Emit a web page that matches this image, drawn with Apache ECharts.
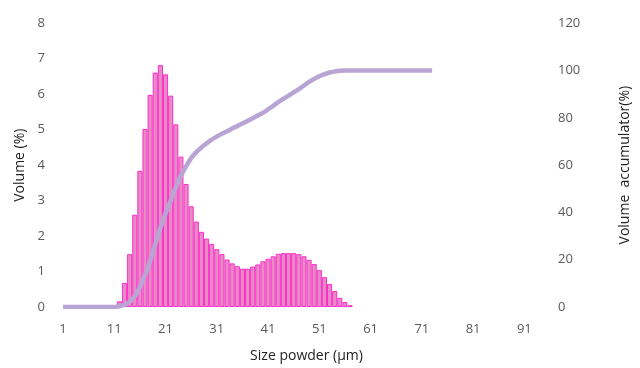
<!DOCTYPE html>
<html>
<head>
<meta charset="utf-8">
<script src="https://cdn.jsdelivr.net/npm/echarts@6/dist/echarts.min.js"></script>
<style>html,body{margin:0;padding:0;background:#fff}#c{width:640px;height:368px}</style>
</head>
<body>
<div id="c"></div>
<script>
// Categories: particle size (µm), 1..96
const sizes = [];
for (let i = 1; i <= 96; i++) sizes.push(String(i));

// Volume (%) histogram, sizes 12..57
const volumeStart = 12;
const volumeValues = [0.16,0.68,1.49,2.60,3.84,5.02,5.98,6.61,6.82,6.56,5.96,5.15,4.24,3.47,2.84,2.41,2.12,1.93,1.78,1.63,1.49,1.34,1.23,1.15,1.08,1.08,1.14,1.20,1.29,1.36,1.43,1.50,1.52,1.52,1.52,1.49,1.43,1.33,1.21,1.04,0.84,0.65,0.45,0.26,0.14,0.05];

// Cumulative volume (%), sizes 1..73
const cumulative = [0,0,0,0,0,0,0,0,0,0,0,0.3,1.0,2.1,4.5,8.5,13.5,19.5,26.5,33.5,39.5,45.0,50.5,55.5,59.5,63.0,65.5,67.5,69.2,70.8,72.1,73.3,74.3,75.5,76.5,77.6,78.7,79.8,81.0,82.1,83.6,85.1,86.7,88.1,89.4,90.8,92.2,93.7,95.2,96.5,97.6,98.5,99.2,99.6,99.9,100,100,100,100,100,100,100,100,100,100,100,100,100,100,100,100,100,100];

const leftTicks = [0,1,2,3,4,5,6,7,8];
const rightTicks = [0,20,40,60,80,100,120];

const barData = sizes.map((s, i) => {
  const j = i + 1 - volumeStart;
  return (j >= 0 && j < volumeValues.length) ? volumeValues[j] : null;
});

const FONT = 'Open Sans';
const chart = echarts.init(document.getElementById('c'), null, {renderer: 'canvas'});
chart.setOption({
  animation: false,
  grid: {left: 63, right: 82, top: 23.3, bottom: 56.3, containLabel: false},
  xAxis: {
    type: 'category',
    data: sizes,
    boundaryGap: false,
    name: 'Size powder (µm)',
    nameLocation: 'middle',
    nameGap: 42,
    nameTextStyle: {color: '#222', fontSize: 14, fontFamily: FONT},
    axisLine: {show: false},
    axisTick: {show: false},
    splitLine: {show: false},
    axisLabel: {interval: 9, color: '#595959', fontSize: 13, fontFamily: FONT, margin: 16}
  },
  yAxis: [{
    type: 'value',
    min: leftTicks[0], max: leftTicks[leftTicks.length - 1], interval: 1,
    name: 'Volume (%)',
    nameLocation: 'middle',
    nameGap: 33,
    nameRotate: 90,
    nameTextStyle: {color: '#222', fontSize: 14, fontFamily: FONT},
    axisLine: {show: false}, axisTick: {show: false}, splitLine: {show: false},
    axisLabel: {color: '#595959', fontSize: 13, fontFamily: FONT, margin: 18}
  }, {
    type: 'value',
    position: 'right',
    min: rightTicks[0], max: rightTicks[rightTicks.length - 1], interval: 20,
    name: 'Volume  accumulator(%)',
    nameLocation: 'middle',
    nameGap: 68,
    nameRotate: 90,
    nameTextStyle: {color: '#222', fontSize: 14, fontFamily: FONT},
    axisLine: {show: false}, axisTick: {show: false}, splitLine: {show: false},
    axisLabel: {color: '#595959', fontSize: 13, fontFamily: FONT, margin: 8}
  }],
  series: [{
    type: 'bar',
    data: barData,
    yAxisIndex: 0,
    barCategoryGap: '0%',
    barGap: '0%',
    itemStyle: {color: '#e68cc4', borderColor: '#ff2ccc', borderWidth: 1}
  }, {
    type: 'line',
    data: cumulative,
    yAxisIndex: 1,
    smooth: 0.3,
    symbol: 'none',
    z: 5,
    lineStyle: {color: '#b9a5d4', width: 4.5}
  }]
});
</script>
</body>
</html>
